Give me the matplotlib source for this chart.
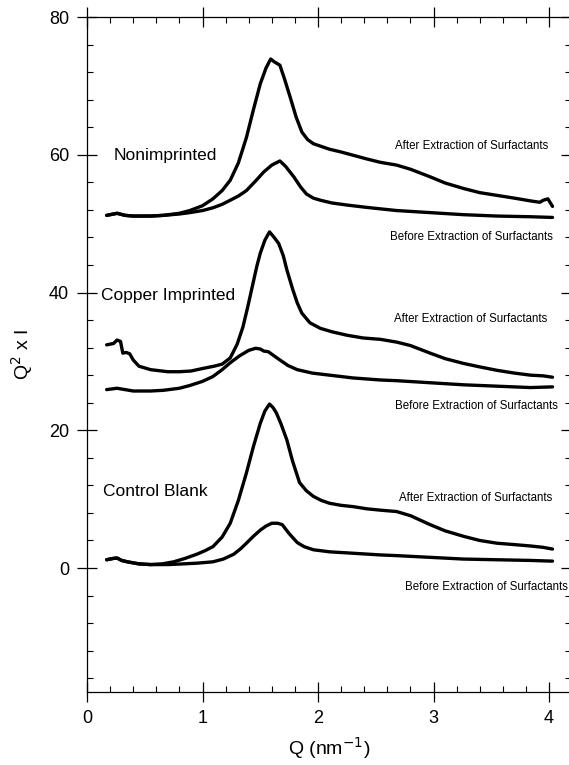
import matplotlib.pyplot as plt
from matplotlib.ticker import MultipleLocator

plt.rcParams['font.family'] = ['Liberation Sans', 'DejaVu Sans']

# Nonimprinted
non_after_q = [0.17, 0.26, 0.33, 0.40, 0.55, 0.66, 0.80, 0.89, 1.00, 1.09, 1.17, 1.24, 1.31, 1.38, 1.44,
               1.50, 1.55, 1.59, 1.62, 1.67, 1.71, 1.76, 1.81, 1.86, 1.91, 1.96, 2.03, 2.10, 2.20, 2.31,
               2.42, 2.54, 2.68, 2.80, 2.97, 3.10, 3.26, 3.40, 3.55, 3.70, 3.84, 3.92, 3.95, 3.99, 4.03]
non_after_i = [51.2, 51.5, 51.2, 51.1, 51.1, 51.2, 51.5, 51.9, 52.6, 53.6, 54.8, 56.3, 58.8, 62.5, 66.5,
               70.3, 72.6, 73.9, 73.5, 73.0, 71.0, 68.3, 65.5, 63.3, 62.2, 61.6, 61.2, 60.8, 60.4, 59.9,
               59.4, 58.9, 58.5, 57.9, 56.8, 55.9, 55.1, 54.5, 54.1, 53.7, 53.3, 53.1, 53.4, 53.6, 52.5]
non_before_q = [0.17, 0.26, 0.33, 0.40, 0.55, 0.66, 0.80, 0.89, 1.00, 1.09, 1.17, 1.24, 1.31, 1.38, 1.46,
                1.53, 1.60, 1.67, 1.72, 1.79, 1.85, 1.90, 1.96, 2.02, 2.12, 2.25, 2.40, 2.51, 2.68, 2.97,
                3.26, 3.55, 3.84, 4.03]
non_before_i = [51.2, 51.5, 51.2, 51.1, 51.1, 51.2, 51.4, 51.6, 51.9, 52.3, 52.8, 53.4, 54.0, 54.8, 56.2,
                57.5, 58.5, 59.1, 58.3, 56.8, 55.3, 54.3, 53.7, 53.4, 53.0, 52.7, 52.4, 52.2, 51.9, 51.6,
                51.3, 51.1, 51.0, 50.9]

# Copper imprinted
cu_after_q = [0.17, 0.23, 0.26, 0.29, 0.31, 0.34, 0.37, 0.40, 0.45, 0.55, 0.70, 0.80, 0.90, 1.01, 1.10,
              1.17, 1.24, 1.30, 1.35, 1.39, 1.43, 1.47, 1.50, 1.54, 1.58, 1.62, 1.66, 1.70, 1.73, 1.78,
              1.82, 1.86, 1.93, 2.02, 2.12, 2.25, 2.39, 2.54, 2.68, 2.80, 2.97, 3.10, 3.26, 3.40, 3.55,
              3.70, 3.84, 3.95, 4.03]
cu_after_i = [32.4, 32.6, 33.1, 32.9, 31.2, 31.3, 31.1, 30.2, 29.3, 28.8, 28.5, 28.5, 28.6, 29.0, 29.3,
              29.6, 30.5, 32.5, 35.0, 37.8, 40.8, 43.8, 45.7, 47.6, 48.8, 48.0, 47.1, 45.3, 43.3, 40.5,
              38.5, 37.0, 35.6, 34.8, 34.3, 33.8, 33.4, 33.2, 32.8, 32.3, 31.2, 30.4, 29.7, 29.2, 28.7,
              28.3, 28.0, 27.9, 27.7]
cu_before_q = [0.17, 0.26, 0.33, 0.40, 0.55, 0.66, 0.80, 0.89, 1.00, 1.09, 1.17, 1.24, 1.32, 1.40, 1.46,
               1.50, 1.53, 1.57, 1.62, 1.67, 1.74, 1.82, 1.95, 2.10, 2.30, 2.54, 2.68, 2.97, 3.26, 3.55,
               3.84, 4.03]
cu_before_i = [25.9, 26.1, 25.9, 25.7, 25.7, 25.8, 26.1, 26.5, 27.1, 27.8, 28.8, 29.8, 30.8, 31.6, 31.9,
               31.8, 31.5, 31.4, 30.8, 30.2, 29.4, 28.8, 28.3, 28.0, 27.6, 27.3, 27.2, 26.9, 26.6, 26.4,
               26.2, 26.3]

# Control blank
cb_after_q = [0.17, 0.23, 0.26, 0.30, 0.35, 0.45, 0.55, 0.65, 0.75, 0.85, 0.95, 1.02, 1.09, 1.17, 1.24,
              1.31, 1.38, 1.44, 1.50, 1.54, 1.58, 1.61, 1.64, 1.68, 1.73, 1.78, 1.84, 1.90, 1.96, 2.03,
              2.10, 2.20, 2.31, 2.42, 2.54, 2.68, 2.80, 2.97, 3.10, 3.26, 3.40, 3.55, 3.70, 3.84, 3.95,
              4.03]
cb_after_i = [1.2, 1.4, 1.45, 1.1, 0.9, 0.6, 0.5, 0.6, 0.9, 1.4, 2.0, 2.5, 3.1, 4.5, 6.5,
              9.8, 13.8, 17.6, 21.0, 22.8, 23.8, 23.3, 22.5, 20.9, 18.6, 15.5, 12.4, 11.2, 10.4, 9.8,
              9.4, 9.1, 8.9, 8.6, 8.4, 8.2, 7.6, 6.3, 5.4, 4.6, 4.0, 3.6, 3.4, 3.2, 3.0,
              2.75]
cb_before_q = [0.17, 0.23, 0.26, 0.30, 0.35, 0.45, 0.55, 0.70, 0.83, 0.95, 1.09, 1.18, 1.27, 1.33, 1.38,
               1.44, 1.50, 1.55, 1.60, 1.65, 1.69, 1.75, 1.82, 1.88, 1.96, 2.10, 2.25, 2.54, 2.68, 2.97,
               3.26, 3.55, 3.84, 4.03]
cb_before_i = [1.2, 1.4, 1.45, 1.1, 0.9, 0.6, 0.5, 0.5, 0.6, 0.7, 0.9, 1.3, 2.0, 2.8, 3.6,
               4.6, 5.5, 6.1, 6.5, 6.5, 6.3, 5.0, 3.7, 3.1, 2.65, 2.35, 2.2, 1.9, 1.8, 1.55,
               1.3, 1.2, 1.1, 1.0]

fig = plt.figure(figsize=(5.69, 7.65), dpi=100)
ax = fig.add_axes([87 / 569, 1 - 692 / 765, 484 / 569, 675 / 765])

for q, i in [(non_after_q, non_after_i), (non_before_q, non_before_i),
             (cu_after_q, cu_after_i), (cu_before_q, cu_before_i),
             (cb_after_q, cb_after_i), (cb_before_q, cb_before_i)]:
    ax.plot(q, i, color='black', lw=2.4, solid_joinstyle='round', solid_capstyle='round')

ax.set_xlim(0, 4.19)
ax.set_ylim(-18, 80)
ax.xaxis.set_major_locator(MultipleLocator(1))
ax.xaxis.set_minor_locator(MultipleLocator(0.2))
ax.yaxis.set_major_locator(MultipleLocator(20))
ax.yaxis.set_minor_locator(MultipleLocator(4))
ax.tick_params(which='major', direction='inout', length=14, width=0.9, labelsize=13,
               top=True, right=True)
ax.tick_params(which='minor', direction='in', length=4, width=0.8, top=True, right=True)
ax.tick_params(axis='x', which='major', pad=6)
ax.tick_params(axis='y', which='major', pad=6)
for s in ax.spines.values():
    s.set_linewidth(0.9)

ax.set_xlabel('Q (nm$^{-1}$)', fontsize=14, labelpad=6)
ax.set_ylabel('Q$^2$ x I', fontsize=14, labelpad=10)

# group labels
ax.text(0.23, 59.9, 'Nonimprinted', fontsize=12.5, va='center')
ax.text(0.12, 39.6, 'Copper Imprinted', fontsize=12.5, va='center')
ax.text(0.14, 11.1, 'Control Blank', fontsize=12.5, va='center')

# curve notes
small = 8.3
ax.text(3.99, 61.3, 'After Extraction of Surfactants', fontsize=small, ha='right', va='center')
ax.text(4.03, 48.0, 'Before Extraction of Surfactants', fontsize=small, ha='right', va='center')
ax.text(3.985, 36.2, 'After Extraction of Surfactants', fontsize=small, ha='right', va='center')
ax.text(4.08, 23.5, 'Before Extraction of Surfactants', fontsize=small, ha='right', va='center')
ax.text(4.03, 10.1, 'After Extraction of Surfactants', fontsize=small, ha='right', va='center')
ax.text(4.16, -2.75, 'Before Extraction of Surfactants', fontsize=small, ha='right', va='center')

fig.savefig('out.png', dpi=100)
